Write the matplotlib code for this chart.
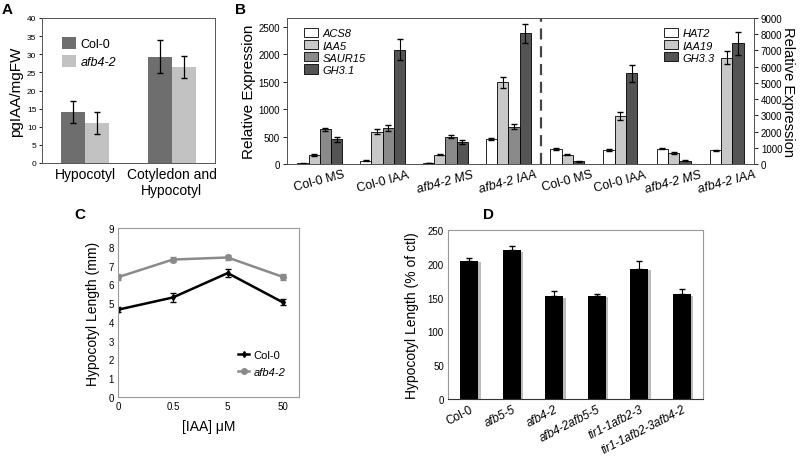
import matplotlib
matplotlib.use("Agg")
import matplotlib.pyplot as plt
import matplotlib.patheffects as pe
from matplotlib.lines import Line2D
import numpy as np

plt.rcParams['font.family'] = ['Liberation Sans', 'DejaVu Sans']

# ---- panel A data
a_groups = ['Hypocotyl', 'Cotyledon and\nHypocotyl']
a_col0 = [14.0, 29.3]
a_col0_err = [3.0, 4.5]
a_afb = [11.0, 26.5]
a_afb_err = [3.0, 3.0]

# ---- panel B data
b_groups = ['Col-0 MS', 'Col-0 IAA', 'afb4-2 MS', 'afb4-2 IAA']
b_left_genes = ['ACS8', 'IAA5', 'SAUR15', 'GH3.1']
b_left_vals = [[10, 160, 630, 450],
               [60, 590, 660, 2080],
               [15, 170, 500, 400],
               [450, 1490, 680, 2380]]
b_left_err = [[5, 20, 35, 50],
              [10, 45, 55, 190],
              [5, 10, 20, 40],
              [20, 100, 40, 170]]
b_right_genes = ['HAT2', 'IAA19', 'GH3.3']
b_right_vals = [[920, 570, 170],
                [870, 2950, 5600],
                [950, 680, 200],
                [850, 6550, 7450]]
b_right_err = [[60, 30, 20],
               [70, 250, 520],
               [50, 50, 30],
               [40, 400, 700]]

# ---- panel C data
c_conc = ['0', '0.5', '5', '50']
c_col0 = [4.65, 5.3, 6.6, 5.05]
c_col0_err = [0.12, 0.25, 0.2, 0.15]
c_afb = [6.38, 7.32, 7.43, 6.4]
c_afb_err = [0.15, 0.12, 0.15, 0.15]

# ---- panel D data
d_lines = ['Col-0', 'afb5-5', 'afb4-2', 'afb4-2afb5-5', 'tir1-1afb2-3', 'tir1-1afb2-3afb4-2']
d_vals = [204, 220, 152, 153, 193, 155]
d_err = [4, 7, 8, 3, 11, 8]

W, H = 800, 460
fig = plt.figure(figsize=(8, 4.6), dpi=100)


def px_axes(x0, y0, x1, y1):
    return fig.add_axes([x0 / W, 1 - y1 / H, (x1 - x0) / W, (y1 - y0) / H])


# ================= A
axA = px_axes(42, 19, 215, 164)
xa = np.arange(len(a_groups))
bw = 0.28
axA.bar(xa - bw / 2, a_col0, bw, color='#6e6e6e', label='Col-0')
axA.bar(xa + bw / 2, a_afb, bw, color='#c2c2c2', label='afb4-2')
axA.errorbar(xa - bw / 2, a_col0, yerr=a_col0_err, fmt='none', ecolor='black', capsize=2, lw=0.9)
axA.errorbar(xa + bw / 2, a_afb, yerr=a_afb_err, fmt='none', ecolor='black', capsize=2, lw=0.9)
axA.set_xlim(-0.5, 1.5)
axA.set_ylim(0, 40)
axA.set_yticks(np.arange(0, 41, 5))
axA.set_xticks(xa)
axA.set_xticklabels(a_groups, fontsize=10)
axA.tick_params(axis='y', labelsize=6, length=2, width=0.6, pad=2)
axA.tick_params(axis='x', length=0, pad=3)
axA.set_ylabel('pgIAA/mgFW', fontsize=11, labelpad=3)
for s in axA.spines.values():
    s.set_color('#555555')
    s.set_linewidth(0.7)
legA = axA.legend(loc='upper left', bbox_to_anchor=(0.05, 0.95), frameon=False, fontsize=9,
                  handlelength=1.1, handleheight=1.1, labelspacing=0.4, handletextpad=0.4)
legA.get_texts()[1].set_style('italic')

# ================= B
axB = px_axes(287, 19, 754, 165)
axB2 = axB.twinx()
w = 1.0
gap = 1.55
left_pos = []
x = 0.0
for g in range(len(b_groups)):
    left_pos.append(x + np.arange(len(b_left_genes)) * w + w / 2)
    x += len(b_left_genes) * w + gap
sep = x - gap + 0.85
x = x - gap + 1.7
right_pos = []
for g in range(len(b_groups)):
    right_pos.append(x + np.arange(len(b_right_genes)) * w + w / 2)
    x += len(b_right_genes) * w + gap + 0.15
x_end = x - gap - 0.15

left_colors = ['white', '#c8c8c8', '#8a8a8a', '#545454']
right_colors = ['white', '#c8c8c8', '#545454']
for g in range(len(b_groups)):
    for k in range(len(b_left_genes)):
        axB.bar(left_pos[g][k], b_left_vals[g][k], w, color=left_colors[k], edgecolor='black',
                lw=0.6, label=b_left_genes[k] if g == 0 else None)
        axB.errorbar(left_pos[g][k], b_left_vals[g][k], yerr=b_left_err[g][k], fmt='none',
                     ecolor='black', capsize=2, lw=0.8)
    for k in range(len(b_right_genes)):
        axB2.bar(right_pos[g][k], b_right_vals[g][k], w, color=right_colors[k], edgecolor='black',
                 lw=0.6, label=b_right_genes[k] if g == 0 else None)
        axB2.errorbar(right_pos[g][k], b_right_vals[g][k], yerr=b_right_err[g][k], fmt='none',
                      ecolor='black', capsize=2, lw=0.8)

axB.axvline(sep, color='#444444', lw=1.6, ls=(0, (5, 3)))
axB.set_xlim(-0.9, x_end + 0.9)
axB.set_ylim(0, 2660)
axB.set_yticks(np.arange(0, 2501, 500))
axB2.set_ylim(0, 9000)
axB2.set_yticks(np.arange(0, 9001, 1000))
centers = [p.mean() for p in left_pos] + [p.mean() for p in right_pos]
axB.set_xticks(centers)
axB.set_xticklabels(b_groups + b_groups, rotation=15, fontsize=9)
for lbl in axB.get_xticklabels():
    if lbl.get_text().startswith('afb'):
        lbl.set_style('italic')
axB.tick_params(axis='x', length=0, pad=3)
axB.tick_params(axis='y', labelsize=7, length=3, width=0.6, pad=2)
axB2.tick_params(axis='y', labelsize=7, length=3, width=0.6, pad=2)
axB.set_ylabel('Relative Expression', fontsize=11, labelpad=2)
axB2.set_ylabel('Relative Expression', fontsize=10.5, rotation=270, labelpad=9)
for a in (axB, axB2):
    for s in a.spines.values():
        s.set_color('#555555')
        s.set_linewidth(0.7)
legB = axB.legend(loc='upper left', bbox_to_anchor=(0.015, 1.0), frameon=False, fontsize=8,
                  handlelength=1.3, handleheight=0.9, labelspacing=0.15, handletextpad=0.4)
for t in legB.get_texts():
    t.set_style('italic')
legB2 = axB2.legend(loc='upper left', bbox_to_anchor=(0.785, 1.0), frameon=False, fontsize=8,
                    handlelength=1.3, handleheight=0.9, labelspacing=0.15, handletextpad=0.4)
for t in legB2.get_texts():
    t.set_style('italic')

# ================= C
axC = px_axes(118, 229, 299, 398)
xc = np.arange(len(c_conc))
axC.errorbar(xc, c_col0, yerr=c_col0_err, color='black', lw=1.8, marker='d', ms=3,
             capsize=2, elinewidth=0.8)
axC.errorbar(xc, c_afb, yerr=c_afb_err, color='#8a8a8a', lw=1.8, marker='o', ms=4,
             capsize=2, elinewidth=0.8)
axC.set_xlim(0, 3.3)
axC.set_ylim(0, 9)
axC.set_yticks(np.arange(0, 10, 1))
axC.set_xticks(xc)
axC.set_xticklabels(c_conc)
axC.tick_params(axis='both', labelsize=7, length=0, pad=3)
axC.set_xlabel('[IAA] \u03bcM', fontsize=10, labelpad=6)
axC.set_ylabel('Hypocotyl Length (mm)', fontsize=10, labelpad=6)
for s in axC.spines.values():
    s.set_color('#999999')
    s.set_linewidth(0.8)
handlesC = [Line2D([], [], color='black', lw=1.8, marker='d', ms=3),
            Line2D([], [], color='#8a8a8a', lw=1.8, marker='o', ms=4)]
legC = axC.legend(handlesC, ['Col-0', 'afb4-2'], loc='lower right', bbox_to_anchor=(0.98, 0.06),
                  frameon=False, fontsize=8, handlelength=1.0, labelspacing=0.6, handletextpad=0.4)
legC.get_texts()[1].set_style('italic')

# ================= D
axD = px_axes(448, 231, 703, 400)
xd = np.arange(len(d_lines))
barsD = axD.bar(xd, d_vals, 0.42, color='black', zorder=2)
for b in barsD:
    b.set_path_effects([pe.SimplePatchShadow(offset=(2, -1), shadow_rgbFace='#aaaaaa', alpha=0.8),
                        pe.Normal()])
axD.errorbar(xd, d_vals, yerr=[np.zeros(len(d_err)), d_err], fmt='none', ecolor='black',
             capsize=2, lw=0.8, zorder=3)
axD.set_xlim(-0.5, len(d_lines) - 0.5)
axD.set_ylim(0, 250)
axD.set_yticks(np.arange(0, 251, 50))
axD.set_xticks(xd)
axD.set_xticklabels(d_lines, rotation=27, ha='right', rotation_mode='anchor', fontsize=8.5)
for lbl in axD.get_xticklabels():
    if lbl.get_text() != 'Col-0':
        lbl.set_style('italic')
axD.tick_params(axis='y', labelsize=7, length=0, pad=3)
axD.tick_params(axis='x', length=0, pad=3)
axD.set_ylabel('Hypocotyl Length (% of ctl)', fontsize=10, labelpad=6)
for s in axD.spines.values():
    s.set_color('#999999')
    s.set_linewidth(0.8)
axD.spines['bottom'].set_color('#333333')

# panel letters
for lab, px, py in [('A', 7, 10), ('B', 240, 10), ('C', 80, 215), ('D', 488, 215)]:
    fig.text(px / W, 1 - py / H, lab, fontsize=11, fontweight='bold', ha='center', va='center')

fig.savefig('out.png', dpi=100)
